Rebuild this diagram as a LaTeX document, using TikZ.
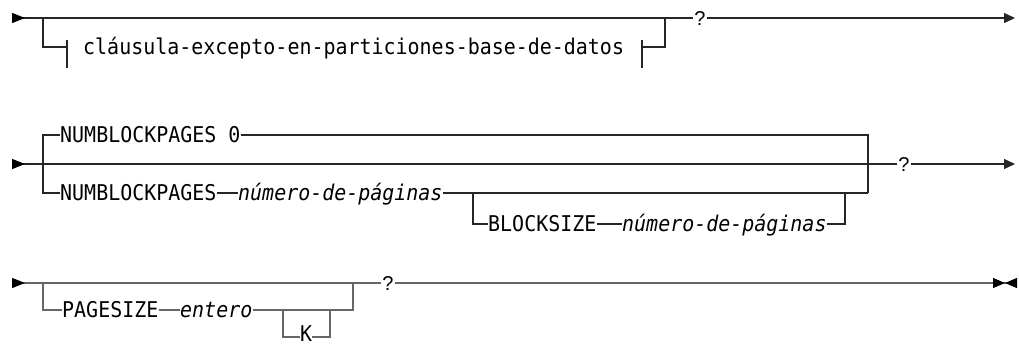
\documentclass[tikz,border=0pt]{standalone}
\usepackage{fontspec}
\setmonofont[FakeStretch=0.92]{DejaVu Sans Mono}
\setsansfont{Liberation Sans}
\usetikzlibrary{arrows.meta}

\tikzset{
  rail/.style={line width=1.1pt, black!85},
  railgray/.style={line width=1.1pt, black!60},
  starttip/.style={{Triangle[reversed, length=13pt, width=10pt, black]}-},
  endtip/.style={rail, -{Triangle[length=11pt, width=10pt]}},
  endmark/.style={railgray, -{Triangle[length=12pt, width=10pt, black] Triangle[reversed, length=12pt, width=10pt, black]}},
  kw/.style={font=\fontsize{21.7}{22}\selectfont\ttfamily, inner sep=0pt, text height=15.5pt, text depth=0pt, anchor=west},
  vartext/.style={kw, font=\fontsize{21.7}{22}\selectfont\ttfamily\itshape},
  qmark/.style={font=\fontsize{20}{20}\selectfont\sffamily, inner sep=1.5pt, text height=15pt, text depth=0pt}
}

\begin{document}
\begin{tikzpicture}[x=1pt, y=-1pt]
    \useasboundingbox (0,0) rectangle (1019,346);

    % Row 1: fragment, optional
    \coordinate (r1s) at (12,18);
    \coordinate (r1e) at (1015,18);
    \coordinate (r1l) at (43,18);
    \coordinate (r1r) at (665,18);
    \coordinate (barl) at (67,47);
    \coordinate (barr) at (642,47);
    \node[qmark] (q1) at (700,18) {?};
    \node[kw] (frag) at (83,47) {cláusula-excepto-en-particiones-base-de-datos};
    \draw[rail, starttip] (r1s) -- (q1.west);
    \draw[endtip] (q1.east) -- (r1e);
    \draw[rail] (r1l) |- (barl);
    \draw[rail] (barl) ++(0,-7) -- ++(0,28);
    \draw[rail] (barr) ++(0,-7) -- ++(0,28);
    \draw[rail] (barr) -| (r1r);

    % Row 2: NUMBLOCKPAGES choice
    \coordinate (r2s) at (12,164);
    \coordinate (r2e) at (1015,164);
    \coordinate (r2t) at (43,135);
    \coordinate (r2b) at (43,193);
    \coordinate (r2rb) at (868,193);
    \coordinate (bl) at (473,193);
    \coordinate (br) at (845,193);
    \node[qmark] (q2) at (904,164) {?};
    \node[kw] (nbp0) at (60,135) {NUMBLOCKPAGES 0};
    \node[kw] (nbp) at (60,193) {NUMBLOCKPAGES};
    \node[vartext] (npag1) at (238,193) {número-de-páginas};
    \node[kw] (bsz) at (488,224) {BLOCKSIZE};
    \node[vartext] (npag2) at (622,224) {número-de-páginas};
    \draw[rail, starttip] (r2s) -- (q2.west);
    \draw[endtip] (q2.east) -- (r2e);
    \draw[rail] (nbp0.west) -- (r2t) -- (r2b) -- (nbp.west);
    \draw[rail] (nbp0.east) -| (r2rb);
    \draw[rail] (nbp.east) -- (npag1.west);
    \draw[rail] (npag1.east) -- (r2rb);
    \draw[rail] (bl) |- (bsz.west);
    \draw[rail] (bsz.east) -- (npag2.west);
    \draw[rail] (npag2.east) -| (br);

    % Row 3: PAGESIZE, optional K
    \coordinate (r3s) at (12,283);
    \coordinate (r3e) at (1017,283);
    \coordinate (r3l) at (43,283);
    \coordinate (r3r) at (353,283);
    \coordinate (kl) at (283,310);
    \coordinate (kr) at (330,310);
    \node[qmark] (q3) at (388,283) {?};
    \node[kw] (psz) at (62,310) {PAGESIZE};
    \node[vartext] (ent) at (180,310) {entero};
    \node[kw, text height=9pt] (kay) at (300,337) {K};
    \draw[railgray, starttip] (r3s) -- (q3.west);
    \draw[endmark] (q3.east) -- (r3e);
    \draw[railgray] (r3l) |- (psz.west);
    \draw[railgray] (psz.east) -- (ent.west);
    \draw[railgray] (ent.east) -| (r3r);
    \draw[railgray] (kl) |- (kay.west);
    \draw[railgray] (kay.east) -| (kr);
\end{tikzpicture}
\end{document}
